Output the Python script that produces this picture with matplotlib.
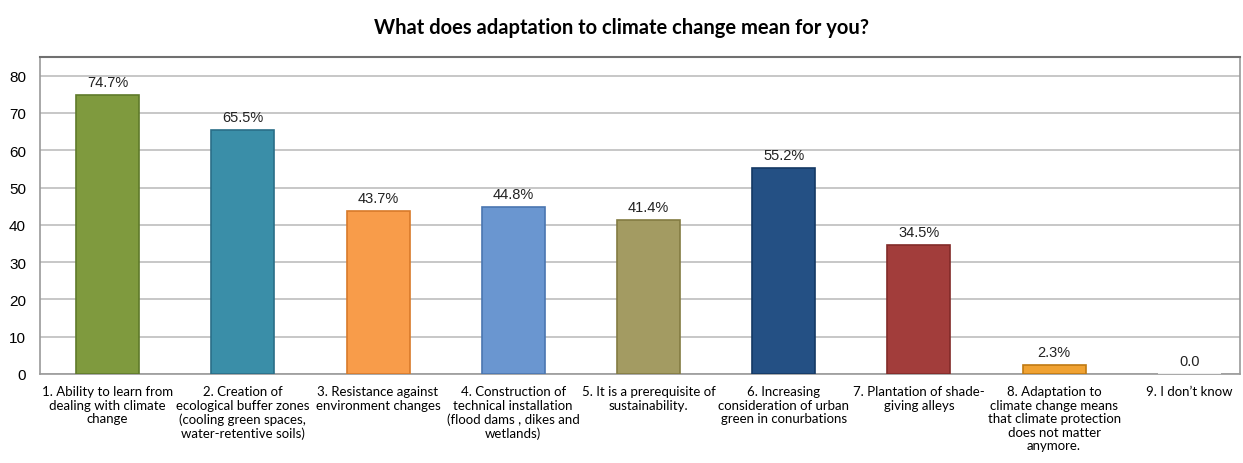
import numpy as np
import matplotlib.pyplot as plt

# data
categories = [
    "1. Ability to learn from\ndealing with climate\nchange",
    "2. Creation of\necological buffer zones\n(cooling green spaces,\nwater-retentive soils)",
    "3. Resistance against\nenvironment changes",
    "4. Construction of\ntechnical installation\n(flood dams , dikes and\nwetlands)",
    "5. It is a prerequisite of\nsustainability.",
    "6. Increasing\nconsideration of urban\ngreen in conurbations",
    "7. Plantation of shade-\ngiving alleys",
    "8. Adaptation to\nclimate change means\nthat climate protection\ndoes not matter\nanymore.",
    "9. I don\u2019t know",
]
values = [74.7, 65.5, 43.7, 44.8, 41.4, 55.2, 34.5, 2.3, 0.0]
value_labels = ["74.7%", "65.5%", "43.7%", "44.8%", "41.4%", "55.2%", "34.5%", "2.3%", "0.0"]
colors = ["#7f9a3e", "#3a8ea8", "#f89c4a", "#6a96d0", "#a39b62",
          "#245084", "#a23d3b", "#f0a232", "#ffffff"]
edges = ["#5f7a2a", "#2a6e88", "#d87a2a", "#4a76b0", "#837b42",
         "#143864", "#822a28", "#c07a12", "#ffffff"]
yticks = [0, 10, 20, 30, 40, 50, 60, 70, 80]

fig = plt.figure(figsize=(12.43, 4.64), dpi=100)
ax = fig.add_axes([40/1243, 89/464, 1200/1243, 317/464])

x = np.arange(len(values))
ax.bar(x, values, width=0.466, color=colors, edgecolor=edges, linewidth=1.2, zorder=3)

for xi, v, lab in zip(x, values, value_labels):
    ax.text(xi, v + 1.6, lab, ha="center", va="bottom", fontsize=10.5,
            family="Liberation Sans", color="#222222")

ax.set_xlim(-0.5, 8.375)
ax.set_ylim(0, 85)
ax.set_yticks(yticks)
ax.set_yticklabels([str(t) for t in yticks], family="Liberation Sans", fontsize=11)
ax.set_xticks(x)
ax.set_xticklabels(categories, family="Lato", fontsize=9.5, linespacing=1.15, color="black")
ax.tick_params(axis="x", length=0, pad=8)
ax.tick_params(axis="y", length=0, pad=10)
ax.yaxis.grid(True, color="#bdbdbd", linewidth=1.2, zorder=0)

for s in ["left", "bottom", "right"]:
    ax.spines[s].set_color("#9a9a9a")
    ax.spines[s].set_linewidth(1.2)
ax.spines["top"].set_color("#707070")
ax.spines["top"].set_linewidth(1.5)

fig.text(0.5, 0.94, "What does adaptation to climate change mean for you?",
         ha="center", va="center", fontsize=14.5, fontweight="bold", family="Lato")

fig.savefig("out.png", dpi=100)
